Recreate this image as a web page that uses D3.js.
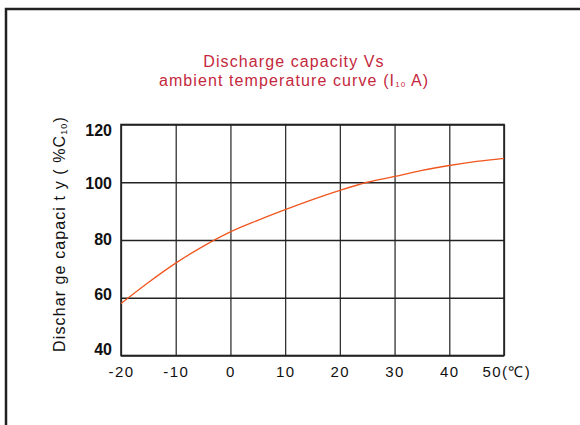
<!DOCTYPE html>
<html>
<head>
<meta charset="utf-8">
<script src="https://cdn.jsdelivr.net/npm/d3@7"></script>
<style>
  html, body { margin: 0; padding: 0; background: #fff; overflow: hidden; }
  svg { display: block; font-family: "Liberation Sans", Arial, sans-serif; }
</style>
</head>
<body>
<div id="chart"></div>
<script>
const temperatures = [-20, -15, -10, -5, 0, 5, 10, 15, 20, 25, 30, 35, 40, 45, 50];
const capacity = [58, 65.3, 72, 77.8, 82.8, 86.8, 90.5, 94, 97.2, 100, 102, 104.1, 105.8, 107.2, 108.3];

const xTicks = [-20, -10, 0, 10, 20, 30, 40, 50];
const yTicks = [40, 60, 80, 100, 120];

const width = 580;
const height = 425;
const margin = { top: 124.5, right: 76, bottom: 69.5, left: 121 };
const innerWidth = width - margin.left - margin.right;
const innerHeight = height - margin.top - margin.bottom;

const svg = d3.select("#chart")
  .append("svg")
  .attr("width", width)
  .attr("height", height);

// outer frame: only the top and left edges fall inside the picture
svg.append("path")
  .attr("d", `M6,${height} V9 H${width}`)
  .attr("fill", "none")
  .attr("stroke", "#222")
  .attr("stroke-width", 2.5);

const title = svg.append("text")
  .attr("text-anchor", "middle")
  .attr("fill", "#c4283c")
  .attr("font-size", 16)
  .attr("letter-spacing", 1.1);

title.append("tspan").attr("x", 294).attr("y", 67).text("Discharge capacity Vs");
const line2 = title.append("tspan").attr("x", 294).attr("y", 86).text("ambient temperature curve (I");
line2.append("tspan").attr("font-size", 8).attr("dy", 1).text("10");
line2.append("tspan").attr("dy", -1).text(" A)");

const x = d3.scaleLinear().domain([-20, 50]).range([0, innerWidth]);
const y = d3.scaleLinear().domain([40, 120]).range([innerHeight, 0]);

const g = svg.append("g")
  .attr("transform", `translate(${margin.left}, ${margin.top})`);

// vertical grid
g.append("g")
  .attr("class", "grid-x")
  .attr("transform", `translate(0, ${innerHeight})`)
  .call(d3.axisBottom(x).tickValues(xTicks).tickSize(-innerHeight).tickFormat(""))
  .call((sel) => sel.select(".domain").remove())
  .selectAll("line")
  .attr("stroke", "#333")
  .attr("stroke-width", 1.3);

// horizontal grid
g.append("g")
  .attr("class", "grid-y")
  .call(d3.axisLeft(y).tickValues(yTicks).tickSize(-innerWidth).tickFormat(""))
  .call((sel) => sel.select(".domain").remove())
  .selectAll("line")
  .attr("stroke", "#222")
  .attr("stroke-width", 1.6);

// frame of plot
g.append("rect")
  .attr("width", innerWidth)
  .attr("height", innerHeight)
  .attr("fill", "none")
  .attr("stroke", "#222")
  .attr("stroke-width", 1.6);

// y tick labels (top one sits a little low, bottom one a little high)
const yLabelShift = { 120: 6, 100: 1, 80: -1, 60: -3, 40: -6 };
g.append("g")
  .call(d3.axisLeft(y).tickValues(yTicks).tickSize(0).tickPadding(9).tickFormat((d) => String(d)))
  .call((sel) => sel.select(".domain").remove())
  .selectAll("text")
  .attr("font-family", "'Liberation Sans', Arial, sans-serif")
  .attr("font-size", 16)
  .attr("font-weight", "bold")
  .attr("fill", "#111")
  .attr("y", (d) => yLabelShift[d]);

// x tick labels
const xAxis = g.append("g")
  .attr("transform", `translate(0, ${innerHeight})`)
  .call(d3.axisBottom(x).tickValues(xTicks).tickSize(0).tickPadding(11).tickFormat((d) => String(d)))
  .call((sel) => sel.select(".domain").remove());

xAxis.selectAll("text")
  .attr("font-family", "'Liberation Sans', Arial, sans-serif")
  .attr("font-size", 15)
  .attr("letter-spacing", 1.4)
  .attr("fill", "#111");

xAxis.selectAll(".tick")
  .filter((d) => d === 50)
  .select("text")
  .attr("text-anchor", "start")
  .attr("dx", -22)
  .text("50(℃)");

// y axis title
const yTitle = svg.append("text")
  .attr("transform", "translate(65, 234) rotate(-90)")
  .attr("text-anchor", "middle")
  .attr("font-size", 16)
  .attr("letter-spacing", 1.1)
  .attr("fill", "#111");
yTitle.append("tspan").text("Dischar ge  capaci t y  ( %C");
yTitle.append("tspan").attr("font-size", 9).attr("dy", 2).text("10");
yTitle.append("tspan").attr("dy", -2).text(")");

// curve
const line = d3.line()
  .x((d, i) => x(temperatures[i]))
  .y((d) => y(d))
  .curve(d3.curveMonotoneX);

g.append("path")
  .datum(capacity)
  .attr("d", line)
  .attr("fill", "none")
  .attr("stroke", "#f0561e")
  .attr("stroke-width", 1.3);
</script>
</body>
</html>
